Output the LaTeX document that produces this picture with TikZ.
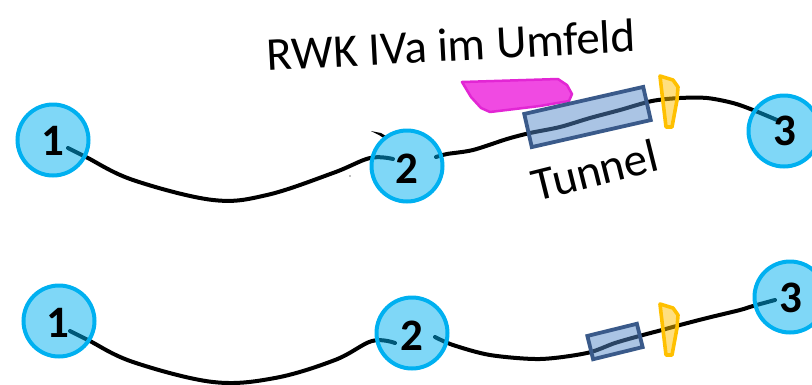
\documentclass[tikz,border=0pt]{standalone}
\usepackage{fontspec}
\setmainfont{Carlito}
\definecolor{ringblue}{HTML}{00B0F0}
\definecolor{tubefill}{RGB}{85,137,201}
\definecolor{tubeline}{HTML}{3A5A8A}
\definecolor{portal}{HTML}{FFC000}
\definecolor{zonefill}{HTML}{F04AE2}
\definecolor{zoneline}{HTML}{E226D4}
\tikzset{
  station/.style={circle, draw=ringblue, line width=4pt, fill=ringblue, fill opacity=0.5,
    draw opacity=1, text opacity=1, minimum size=71pt, inner sep=0pt},
  num/.style={font=\bfseries\fontsize{45}{50}\selectfont, inner sep=0pt},
  route/.style={line width=4pt, line cap=round, line join=round, black},
  tube/.style={rectangle, draw=tubeline, line width=3.8pt, fill=tubefill, fill opacity=0.5,
    draw opacity=1, inner sep=0pt},
  portalshape/.style={draw=portal, line width=3.6pt, fill=portal, fill opacity=0.5,
    draw opacity=1, line join=round},
  zone/.style={draw=zoneline, line width=2.5pt, fill=zonefill, line join=round},
  caption/.style={font=\fontsize{47}{56}\selectfont, inner sep=0pt}
}
\begin{document}
\begin{tikzpicture}[x=1pt, y=-1pt]
\useasboundingbox (0,0) rectangle (812,384);

% ---- upper variant: route ends inside the stations
\coordinate (a1) at (68,148);
\coordinate (a2w) at (393,159);
\coordinate (a2e) at (436,157);
\coordinate (a3) at (777,120);

\draw[route] plot[smooth, tension=0.6] coordinates {(a1) (86,157) (133,180) (213,200) (267,195) (333,173) (370,158) (a2w)};
\draw[route] plot[smooth, tension=0.5] coordinates {(a2e) (447,154) (473,150) (507,139) (530,133) (560,127) (590,118) (620,110) (652,101) (680,98) (707,98) (733,103) (753,110) (a3)};

% spur stub at station 2
\fill (371,131) -- (381,133) -- (386,136) -- (385,139) -- (379,135) -- cycle;
\fill[gray] (350,176) circle (0.8);

% surrounding zone, tunnel and portal
\draw[zone] (462,82) -- (558,79) -- (567,85) -- (572,94) -- (569,101) -- (540,106) -- (490,112) -- (481,108) -- (471,97) -- cycle;
\node[tube, minimum width=122pt, minimum height=34pt, rotate=12.8] (ta) at (587.5,117) {};
\draw[portalshape] (660,76) -- (673,80) -- (678,87) -- (677,100) -- (672,127) -- (666,127) -- (664,110) -- (661,85) -- cycle;

\node[station] (s1a) at (53,140) {};
\node[station] (s2a) at (407,166) {};
\node[station] (s3a) at (784,131) {};
\node[num] at (53,141) {1};
\node[num] at (407,169) {2};
\node[num] at (785,131) {3};

\node[caption, rotate=3] (rwk) at (451,45) {RWK IVa im Umfeld};
\node[caption, rotate=14] (tl) at (595,170) {Tunnel};

% ---- lower variant
\coordinate (b1) at (70,331);
\coordinate (b2w) at (395,343);
\coordinate (b2e) at (435,337);
\coordinate (b3) at (775,300);

\draw[route] plot[smooth, tension=0.6] coordinates {(b1) (88,340) (133,362) (213,382) (275,378) (335,360) (372,341) (b2w)};
\draw[route] plot[smooth, tension=0.5] coordinates {(b2e) (453,345) (490,355) (540,359) (587,353) (615,343) (643,335) (662,330) (680,325) (707,318) (740,310) (753,306) (b3)};

\node[tube, minimum width=51pt, minimum height=24pt, rotate=13.8] (tb) at (615,341.5) {};
\begin{scope}[shift={(0,228)}]
\draw[portalshape] (660,76) -- (673,80) -- (678,87) -- (677,100) -- (672,127) -- (666,127) -- (664,110) -- (661,85) -- cycle;
\end{scope}

\node[station] (s1b) at (59,321) {};
\node[station] (s2b) at (412,333) {};
\node[station] (s3b) at (790,297) {};
\node[num] at (58,323) {1};
\node[num] at (412,336) {2};
\node[num] at (791,298) {3};
\end{tikzpicture}
\end{document}
